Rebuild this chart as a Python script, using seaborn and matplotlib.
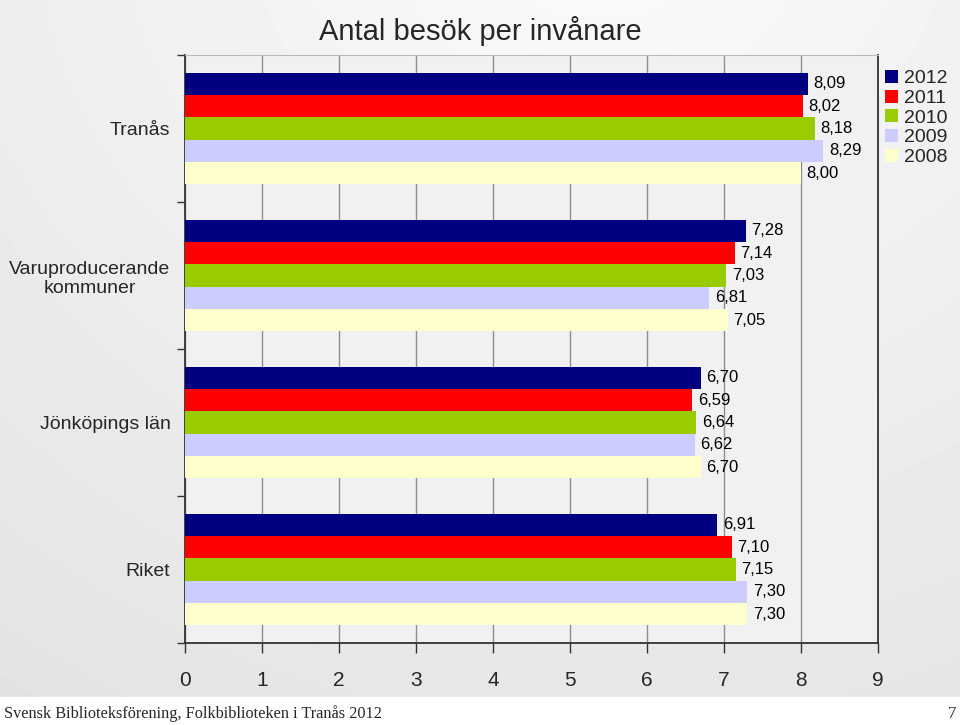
import numpy as np
import pandas as pd
import matplotlib
matplotlib.use("Agg")
import matplotlib.pyplot as plt
import seaborn as sns
from matplotlib.patches import Rectangle

categories = ["Tranås", "Varuproducerande\nkommuner", "Jönköpings län", "Riket"]
years = ["2012", "2011", "2010", "2009", "2008"]
v2012 = [8.09, 7.28, 6.70, 6.91]
v2011 = [8.02, 7.14, 6.59, 7.10]
v2010 = [8.18, 7.03, 6.64, 7.15]
v2009 = [8.29, 6.81, 6.62, 7.30]
v2008 = [8.00, 7.05, 6.70, 7.30]
colors = ["#000080", "#FF0000", "#99CC00", "#CCCCFF", "#FFFFCC"]
xticks = list(range(0, 10))

series = {"2012": v2012, "2011": v2011, "2010": v2010, "2009": v2009, "2008": v2008}
rows = []
for y in years:
    for c, v in zip(categories, series[y]):
        rows.append({"Kategori": c, "År": y, "Värde": v})
df = pd.DataFrame(rows)

sns.set_theme(style="white")
plt.rcParams["font.family"] = ["Liberation Sans", "DejaVu Sans"]

fig = plt.figure(figsize=(9.6, 7.25), dpi=100)

# background gradient
bg = fig.add_axes([0, 0, 1, 1], zorder=-10)
h, w = 725, 960
yy, xx = np.mgrid[0:h, 0:w]
d = np.sqrt(((xx - 600) / 1000.0) ** 2 + ((yy + 100) / 900.0) ** 2)
img = np.clip(0.985 - 0.09 * d, 0, 1)
bg.imshow(img, cmap="gray", vmin=0, vmax=1, aspect="auto", extent=[0, 1, 0, 1],
          interpolation="bilinear")
bg.add_patch(Rectangle((0, 0), 1, 28 / 725, color="white", zorder=2))
bg.set_axis_off()

ax = fig.add_axes([185 / 960, 1 - 643 / 725, (878 - 185) / 960, (643 - 55) / 725])
ax.set_facecolor("#f1f1f4")

sns.barplot(data=df, x="Värde", y="Kategori", hue="År", hue_order=years,
            order=categories, palette=colors, orient="h", width=0.76,
            errorbar=None, linewidth=0, saturation=1, ax=ax, zorder=3)

ax.set_xlim(0, 9)
ax.set_ylim(3.5, -0.5)
ax.set_xticks(xticks)
ax.set_xticklabels([str(t) for t in xticks], fontsize=15)
ax.grid(axis="x", color="#8f8f8f", linewidth=1.0, zorder=0)
ax.set_axisbelow(True)
ax.set_xlabel("")
ax.set_ylabel("")

ax.set_yticks(range(len(categories)))
ax.set_yticklabels(categories, fontsize=14, ha="right", multialignment="center")
ax.tick_params(axis="y", which="major", length=0, pad=10.5)
ax.set_yticks([-0.5, 0.5, 1.5, 2.5, 3.5], minor=True)
ax.tick_params(axis="y", which="minor", length=6, width=1, color="#333333", direction="out", left=True)
ax.tick_params(axis="x", which="major", length=7, width=1, color="#333333", direction="out",
               bottom=True, pad=13)

for side in ["left", "bottom", "right"]:
    ax.spines[side].set_color("#333333")
    ax.spines[side].set_linewidth(1.3)
ax.spines["top"].set_color("#bbbbbb")
ax.spines["top"].set_linewidth(0.8)

for cont, y in zip(ax.containers, years):
    ax.bar_label(cont, labels=[f"{v:.2f}".replace(".", ",") for v in series[y]],
                 padding=4, fontsize=12, color="black")

leg = ax.legend(loc="upper left", bbox_to_anchor=(885 / 960, 1 - 70 / 725),
                bbox_transform=fig.transFigure, frameon=False, fontsize=14,
                handlelength=0.65, handleheight=0.65, handletextpad=0.35,
                labelspacing=0.12, borderpad=0, borderaxespad=0)

fig.text(480 / 960, 1 - 31 / 725, "Antal besök per invånare", ha="center", va="center", fontsize=21)
fig.text(4 / 960, 1 - 714 / 725, "Svensk Biblioteksförening, Folkbiblioteken i Tranås 2012",
         ha="left", va="center", fontsize=11.7, family=["Liberation Serif", "DejaVu Serif"])
fig.text(956 / 960, 1 - 714 / 725, "7", ha="right", va="center", fontsize=12,
         family=["Liberation Serif", "DejaVu Serif"])

fig.savefig("out.png", dpi=100)
